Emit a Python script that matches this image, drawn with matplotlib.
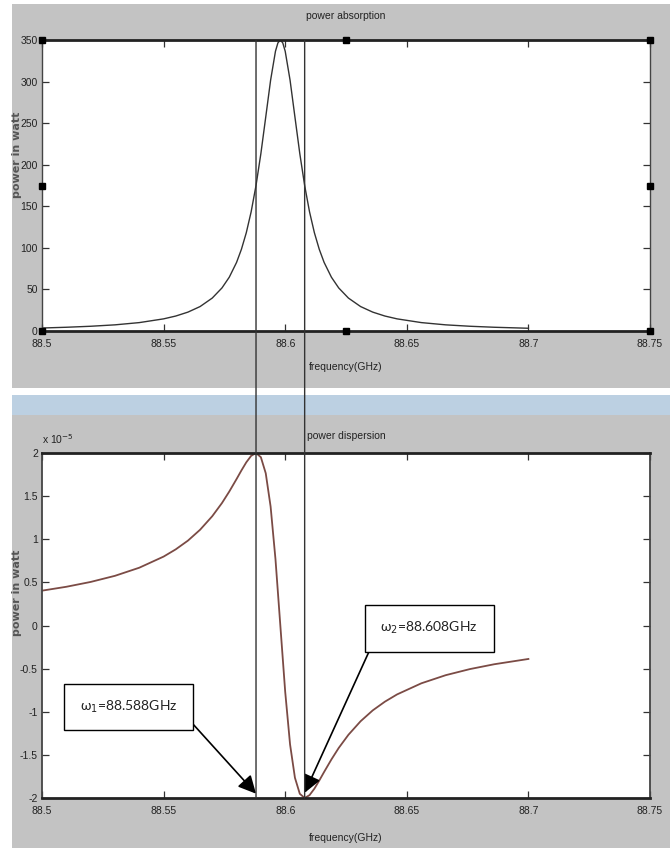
import matplotlib
matplotlib.use('Agg')
import matplotlib.pyplot as plt
from matplotlib.patches import Rectangle, ConnectionPatch
from matplotlib import font_manager

# power absorption curve
freq_abs = [88.50, 88.51, 88.52, 88.53, 88.54, 88.55, 88.555, 88.56, 88.565, 88.57,
            88.574, 88.577, 88.58, 88.582, 88.584, 88.586, 88.588, 88.590, 88.592, 88.594,
            88.596, 88.597, 88.598, 88.599, 88.600, 88.602, 88.604, 88.606, 88.608, 88.610,
            88.612, 88.614, 88.616, 88.619, 88.622, 88.626, 88.631, 88.636, 88.641, 88.646,
            88.656, 88.666, 88.676, 88.686, 88.70]
power_abs = [3.6, 4.5, 5.7, 7.4, 10.1, 14.6, 18.0, 22.7, 29.4, 39.6,
             51.8, 64.7, 82.5, 98.3, 118.2, 143.4, 175, 213.4, 257.4, 301.7,
             336.5, 346.5, 350, 346.5, 336.5, 301.7, 257.4, 213.4, 175, 143.4,
             118.2, 98.3, 82.5, 64.7, 51.8, 39.6, 29.4, 22.7, 18.0, 14.6,
             10.1, 7.4, 5.7, 4.5, 3.3]

# power dispersion curve, in units of 1e-5 W
freq_disp = [88.50, 88.51, 88.52, 88.53, 88.54, 88.55, 88.555, 88.56, 88.565, 88.57,
             88.574, 88.577, 88.58, 88.582, 88.584, 88.586, 88.588, 88.590, 88.592, 88.594,
             88.596, 88.598, 88.600, 88.602, 88.604, 88.606, 88.608, 88.610, 88.612, 88.614,
             88.616, 88.619, 88.622, 88.626, 88.631, 88.636, 88.641, 88.646, 88.656, 88.666,
             88.676, 88.686, 88.70]
power_disp = [0.404, 0.449, 0.505, 0.576, 0.670, 0.799, 0.883, 0.984, 1.110, 1.267,
              1.420, 1.553, 1.698, 1.798, 1.892, 1.967, 2.0, 1.951, 1.765, 1.379,
              0.769, 0.0, -0.769, -1.379, -1.765, -1.951, -2.0, -1.967, -1.892, -1.798,
              -1.698, -1.553, -1.420, -1.267, -1.110, -0.984, -0.883, -0.799, -0.670, -0.576,
              -0.505, -0.449, -0.388]

xticks = [88.5, 88.55, 88.6, 88.65, 88.7, 88.75]
xtick_labels = ['88.5', '88.55', '88.6', '88.65', '88.7', '88.75']
yticks_abs = [0, 50, 100, 150, 200, 250, 300, 350]
yticks_disp = [-2, -1.5, -1, -0.5, 0, 0.5, 1, 1.5, 2]
ytick_disp_labels = ['-2', '-1.5', '-1', '-0.5', '0', '0.5', '1', '1.5', '2']

marker_freqs = [88.588, 88.608]
marker_labels = ['ω$_1$=88.588GHz ', 'ω$_2$=88.608GHz ']
label_pos = [(88.5356, -0.945), (88.6593, -0.03)]
arrow_tips = [(88.588, -1.95), (88.608, -1.94)]


def style_axes(ax, ylim, yticks, ylabels, font):
    ax.set_xlim(88.5, 88.75)
    ax.set_ylim(*ylim)
    ax.set_xticks(xticks)
    ax.set_xticklabels(xtick_labels, family=font, fontsize=7.5)
    ax.set_yticks(yticks)
    ax.set_yticklabels(ylabels, family=font, fontsize=7.5)
    ax.tick_params(direction='in', length=5, width=0.9, top=True, right=True,
                   color='#333333', labelcolor='#222222')
    ax.tick_params(axis='x', pad=6)
    ax.tick_params(axis='y', pad=3)
    for side in ['left', 'right']:
        ax.spines[side].set_linewidth(1.0)
        ax.spines[side].set_color('#444444')
    for side in ['top', 'bottom']:
        ax.spines[side].set_linewidth(2.0)
        ax.spines[side].set_color('#222222')


def main():
    names = {f.name for f in font_manager.fontManager.ttflist}
    narrow = 'Liberation Sans Narrow' if 'Liberation Sans Narrow' in names else 'Liberation Sans'
    box_font = 'Lato' if 'Lato' in names else 'DejaVu Sans'

    fig = plt.figure(figsize=(6.7, 8.48), dpi=100)
    fig.patch.set_facecolor('white')

    # window background: grey panels and the blue splitter bar
    gray = '#c3c3c3'
    fig.add_artist(Rectangle((0.018, 1 - 388 / 848), 0.982, 384 / 848, transform=fig.transFigure,
                             facecolor=gray, edgecolor='none', zorder=-2))
    fig.add_artist(Rectangle((0.018, 1 - 415 / 848), 0.982, 20 / 848, transform=fig.transFigure,
                             facecolor='#bcd0e2', edgecolor='none', zorder=-2))
    fig.add_artist(Rectangle((0.018, 0), 0.982, 1 - 415 / 848, transform=fig.transFigure,
                             facecolor=gray, edgecolor='none', zorder=-2))

    ax1 = fig.add_axes([42 / 670, 1 - 331 / 848, 608 / 670, 291 / 848])
    ax2 = fig.add_axes([42 / 670, 1 - 798 / 848, 608 / 670, 345 / 848])

    ax1.plot(freq_abs, power_abs, color='#333333', lw=1.0)
    style_axes(ax1, (0, 350), yticks_abs, [str(v) for v in yticks_abs], narrow)

    ax2.plot(freq_disp, power_disp, color='#7b4b45', lw=1.3)
    style_axes(ax2, (-2, 2), yticks_disp, ytick_disp_labels, narrow)
    for side in ['left', 'right']:
        ax2.spines[side].set_linewidth(1.3)

    # selection handles on the upper axes
    for hx, hy in [(0, 0), (0.5, 0), (1, 0), (0, 0.5), (1, 0.5), (0, 1), (0.5, 1), (1, 1)]:
        ax1.plot(hx, hy, 's', color='black', markersize=4, transform=ax1.transAxes,
                 clip_on=False, zorder=5)

    # titles and labels
    fig.text(346 / 670, 1 - 16 / 848, 'power absorption', ha='center', va='center',
             family=narrow, fontsize=7.5, color='#222222')
    fig.text(346 / 670, 1 - 367 / 848, 'frequency(GHz)', ha='center', va='center',
             family=narrow, fontsize=7.5, color='#222222')
    fig.text(346 / 670, 1 - 436 / 848, 'power dispersion', ha='center', va='center',
             family=narrow, fontsize=7.5, color='#222222')
    fig.text(346 / 670, 1 - 838 / 848, 'frequency(GHz)', ha='center', va='center',
             family=narrow, fontsize=7.5, color='#222222')
    fig.text(42 / 670, 1 - 439 / 848, 'x 10$^{-5}$', ha='left', va='center',
             family=narrow, fontsize=7.5, color='#222222')
    for yc in [155, 593]:
        fig.text(17 / 670, 1 - yc / 848, 'power in watt', ha='center', va='center',
                 rotation=90, fontsize=8, fontweight='bold', color='#555555')

    # vertical marker lines running through both panels
    for f in marker_freqs:
        con = ConnectionPatch(xyA=(f, ax1.get_ylim()[1]), coordsA=ax1.transData,
                              xyB=(f, ax2.get_ylim()[0]), coordsB=ax2.transData,
                              color='#333333', lw=1.0)
        fig.add_artist(con)

    # annotation boxes with arrows
    relpos = [(1, 0.5), (0, 0.6)]
    for text, pos, tip, rp in zip(marker_labels, label_pos, arrow_tips, relpos):
        ax2.annotate(text, xy=tip, xytext=pos, ha='center', va='center',
                     family=box_font, fontsize=10, color='#222222',
                     bbox=dict(boxstyle='square,pad=1.1', fc='white', ec='black', lw=1.0),
                     arrowprops=dict(arrowstyle='-|>,head_length=0.6,head_width=0.3',
                                     color='black', lw=1.2,
                                     mutation_scale=18, relpos=rp, shrinkA=0, shrinkB=0))

    plt.savefig('out.png', dpi=100, facecolor=fig.get_facecolor())
    plt.close('all')


if __name__ == '__main__':
    main()
